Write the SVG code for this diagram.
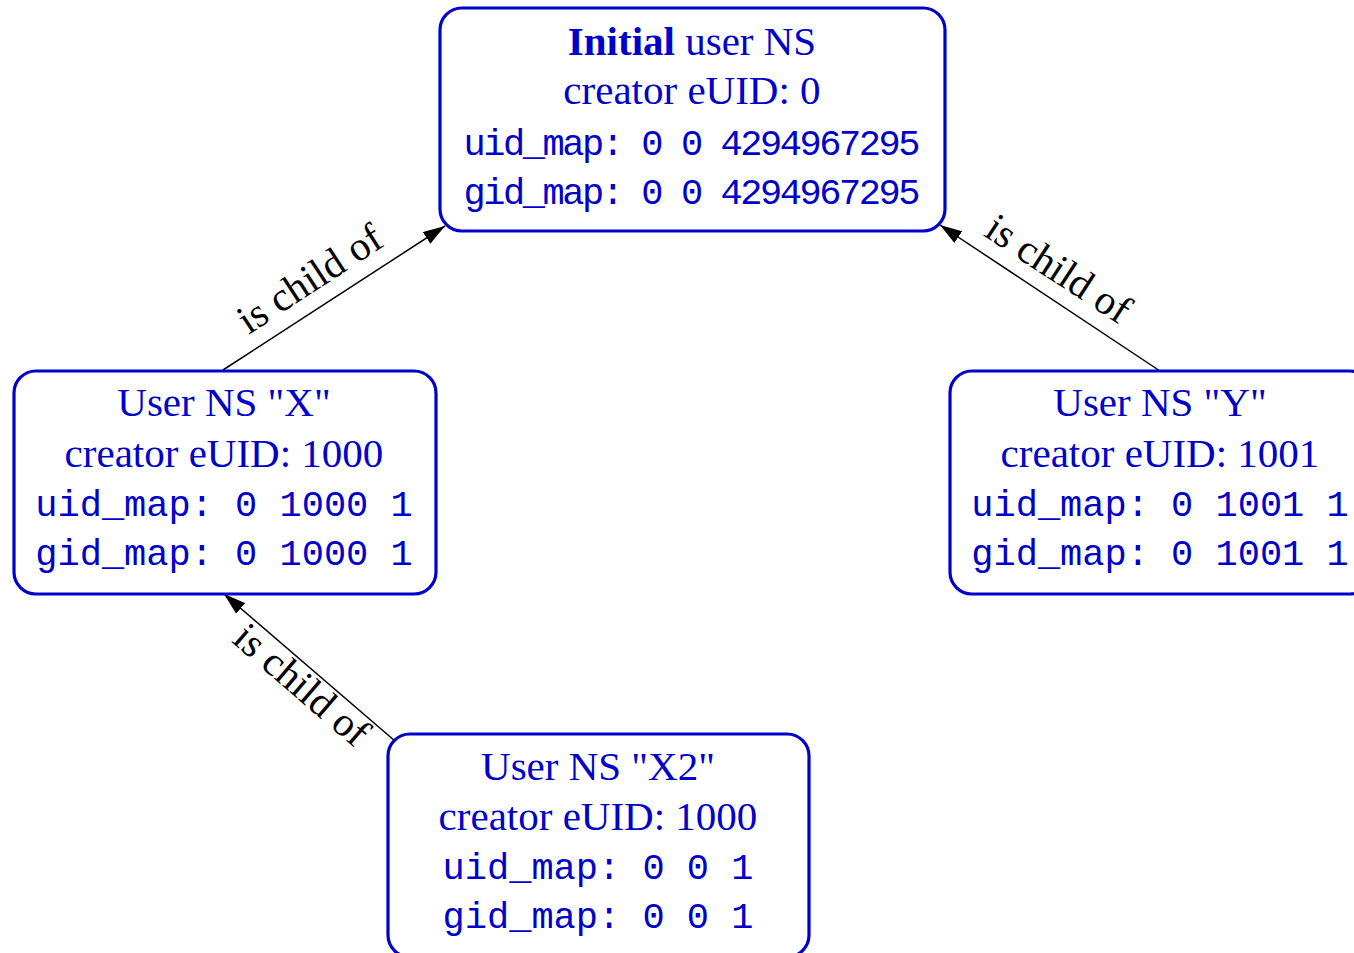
<svg xmlns="http://www.w3.org/2000/svg" width="1354" height="953" viewBox="0 0 1354 953">
<style>
.box{fill:#ffffff;stroke:#0000cc;stroke-width:3.2}
.t{font-family:"Liberation Serif","Times New Roman",serif;font-size:41px;fill:#0000cc;text-anchor:middle}
.b{font-weight:bold}
.m{font-family:"Liberation Mono","Courier New",monospace;font-size:37px;fill:#0000cc;text-anchor:middle}
.edge{stroke:#000000;stroke-width:1.5;fill:none;marker-end:url(#arr)}
.lbl{font-family:"Liberation Serif","Times New Roman",serif;font-size:41px;fill:#000000;text-anchor:middle}
</style>
<defs>
<marker id="arr" markerUnits="userSpaceOnUse" markerWidth="22" markerHeight="14" refX="22" refY="7" orient="auto">
<path d="M0,0 L22,7 L0,14 z" fill="#000000"/>
</marker>
</defs>
<rect width="1354" height="953" fill="#ffffff"/>
<g id="connectors">
<line class="edge" x1="223" y1="370" x2="445" y2="226"/>
<line class="edge" x1="1160" y1="371" x2="940" y2="225"/>
<line class="edge" x1="395" y1="741" x2="224" y2="594"/>
<text class="lbl" transform="translate(317,290) rotate(-33.2)">is child of</text>
<text class="lbl" transform="translate(1051,280) rotate(33.2)">is child of</text>
<text class="lbl" transform="translate(293,695) rotate(40.7)">is child of</text>
</g>
<g id="node-initial">
<rect class="box" x="440" y="8" width="505" height="223" rx="22" ry="22"/>
<text class="t" x="692" y="55"><tspan class="b">Initial</tspan> user NS</text>
<text class="t" x="692" y="104">creator eUID: 0</text>
<text class="m" x="692" y="155" textLength="457">uid_map: 0 0 4294967295</text>
<text class="m" x="692" y="204" textLength="457">gid_map: 0 0 4294967295</text>
</g>
<g id="node-x">
<rect class="box" x="14" y="371" width="422" height="223" rx="22" ry="22"/>
<text class="t" x="224" y="416">User NS "X"</text>
<text class="t" x="224" y="467">creator eUID: 1000</text>
<text class="m" x="224" y="516">uid_map: 0 1000 1</text>
<text class="m" x="224" y="565">gid_map: 0 1000 1</text>
</g>
<g id="node-y">
<rect class="box" x="950" y="371" width="422" height="223" rx="22" ry="22"/>
<text class="t" x="1160" y="416">User NS "Y"</text>
<text class="t" x="1160" y="467">creator eUID: 1001</text>
<text class="m" x="1160" y="516">uid_map: 0 1001 1</text>
<text class="m" x="1160" y="565">gid_map: 0 1001 1</text>
</g>
<g id="node-x2">
<rect class="box" x="388" y="734" width="421" height="223" rx="22" ry="22"/>
<text class="t" x="598" y="780">User NS "X2"</text>
<text class="t" x="598" y="830">creator eUID: 1000</text>
<text class="m" x="598" y="879">uid_map: 0 0 1</text>
<text class="m" x="598" y="928">gid_map: 0 0 1</text>
</g>
</svg>
